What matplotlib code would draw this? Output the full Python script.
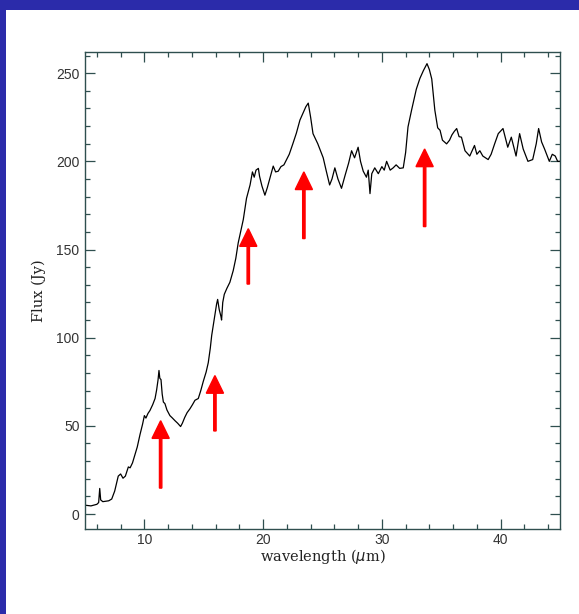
import matplotlib
matplotlib.use("Agg")
import matplotlib.pyplot as plt
from matplotlib.patches import Rectangle
from matplotlib.ticker import MultipleLocator

wavelength = [5.0, 5.5, 6.0, 6.15, 6.24, 6.32, 6.5, 7.0, 7.25, 7.5, 7.8, 8.0, 8.2, 8.4, 8.65, 8.8,
              9.0, 9.2, 9.4, 9.63, 9.85, 10.0, 10.13, 10.3, 10.47, 10.7, 10.9, 11.03, 11.15, 11.23,
              11.3, 11.4, 11.5, 11.6, 11.73, 11.9, 12.15, 12.35, 12.58, 12.8, 13.05, 13.2, 13.4,
              13.6, 13.84, 14.05, 14.26, 14.54, 14.75, 14.96, 15.2, 15.38, 15.55, 15.67, 15.8,
              15.94, 16.08, 16.17, 16.3, 16.45, 16.5, 16.6, 16.73, 16.95, 17.2, 17.48, 17.7, 17.9,
              18.1, 18.33, 18.6, 18.9, 19.1, 19.25, 19.4, 19.6, 19.7, 19.9, 20.15, 20.35, 20.57,
              20.85, 21.05, 21.27, 21.5, 21.75, 21.97, 22.2, 22.5, 22.8, 23.1, 23.4, 23.6, 23.8,
              24.0, 24.2, 24.6, 25.06, 25.3, 25.6, 25.8, 26.04, 26.3, 26.6, 26.9, 27.2, 27.45,
              27.7, 28.0, 28.2, 28.43, 28.7, 28.85, 29.0, 29.15, 29.4, 29.7, 30.0, 30.2, 30.4,
              30.7, 30.95, 31.2, 31.5, 31.8, 32.0, 32.2, 32.5, 32.9, 33.2, 33.5, 33.8, 34.0, 34.2,
              34.46, 34.7, 34.9, 35.1, 35.45, 35.7, 35.9, 36.1, 36.3, 36.5, 36.7, 37.0, 37.4,
              37.6, 37.8, 38.0, 38.25, 38.5, 38.95, 39.2, 39.5, 39.8, 40.2, 40.6, 40.9, 41.3,
              41.6, 41.9, 42.3, 42.7, 43.0, 43.2, 43.45, 43.7, 44.1, 44.35, 44.6, 44.8, 45.0]
flux = [5.0, 4.6, 5.5, 6.5, 14.5, 8.0, 7.0, 7.5, 8.5, 13, 21.5, 22.7, 20.3, 21.5, 26.7, 26.2,
        29, 33.5, 38, 45, 51, 55.8, 54.4, 57, 58.7, 62, 65.5, 70.3, 76, 81.4,
        77, 76.2, 68, 63.5, 62.6, 59, 55.8, 54.5, 52.9, 51.5, 49.6, 51.5, 54.8,
        57.5, 59.7, 62, 64.5, 65.5, 70, 75.2, 80.5, 85.8, 94, 101.3, 107,
        113, 119, 121.7, 116, 112, 110, 120, 124.6, 128, 131.4, 138, 145, 153.7,
        160, 167, 179, 186.6, 194, 191, 195, 196, 191.5, 186, 180.8, 185, 190.5,
        197.3, 194, 194.4, 197, 198, 201, 204, 209.9, 216, 223.4, 228, 231, 233,
        225, 215.7, 210, 202, 195, 186.6, 190, 196.3, 190, 184.7, 192, 199, 206,
        202, 208, 200, 194.4, 191, 195, 181.7, 193, 196.3, 193, 197, 195, 200,
        195, 196.3, 198, 196, 196.3, 205, 219.5, 229, 240.9, 247, 251.5, 255.4, 252, 246.7,
        229, 219, 217.6, 212, 209.9, 212, 215, 217, 218.6, 214, 213.7, 206, 203,
        206, 209, 204, 206, 203, 201, 204, 210, 215.7, 218.6, 208, 213.7, 203,
        215.7, 207, 200, 201, 210, 218.6, 211, 207, 200, 204, 203, 200, 200]

arrow_x = [11.37, 15.94, 18.75, 23.43, 33.6]
arrow_tail = [14.7, 47.1, 130.4, 156.2, 163.0]
arrow_tip = [52.9, 78.5, 161.8, 194.0, 207.0]

xticks = [10, 20, 30, 40]
yticks = [0, 50, 100, 150, 200, 250]

W, H = 579, 614
fig = plt.figure(figsize=(W / 100, H / 100), dpi=100)
fig.patch.set_facecolor("white")

blue = "#2b2baa"
fig.patches.append(Rectangle((0, 1 - 10 / H), 1, 10 / H, transform=fig.transFigure,
                             facecolor=blue, edgecolor="none", zorder=0))
fig.patches.append(Rectangle((0, 0), 6 / W, 1, transform=fig.transFigure,
                             facecolor=blue, edgecolor="none", zorder=0))

ax = fig.add_axes([85 / W, 1 - 529 / H, (560 - 85) / W, (529 - 52) / H])
ax.plot(wavelength, flux, color="black", lw=0.9)

head_len = 10.0
for x, t0, t1 in zip(arrow_x, arrow_tail, arrow_tip):
    ax.arrow(x, t0, 0, t1 - t0, width=0.2, head_width=1.45, head_length=head_len,
             length_includes_head=True, color="red", zorder=5)

ax.set_xlim(5, 45)
ax.set_ylim(-8.5, 262)
ax.set_xticks(xticks)
ax.set_yticks(yticks)
ax.xaxis.set_minor_locator(MultipleLocator(2))
ax.yaxis.set_minor_locator(MultipleLocator(10))

tc = "#2f4f4f"
ax.tick_params(which="both", direction="in", top=True, right=True, color=tc, width=0.9)
ax.tick_params(which="major", length=7.2, labelsize=10, labelcolor="#333333")
ax.tick_params(axis="x", which="major", pad=3)
ax.tick_params(axis="y", which="major", pad=4)
ax.tick_params(which="minor", length=3.6)
for lab in ax.get_xticklabels() + ax.get_yticklabels():
    lab.set_family("Liberation Sans")
for s in ax.spines.values():
    s.set_color(tc)
    s.set_linewidth(1.0)

ax.set_xlabel(r"wavelength ($\mu$m)", family="DejaVu Serif", fontsize=10.5, color="#222222", labelpad=0)
ax.set_ylabel("Flux (Jy)", family="DejaVu Serif", fontsize=10.5, color="#222222", labelpad=7)

fig.savefig("out.png", dpi=100, facecolor=fig.get_facecolor())
